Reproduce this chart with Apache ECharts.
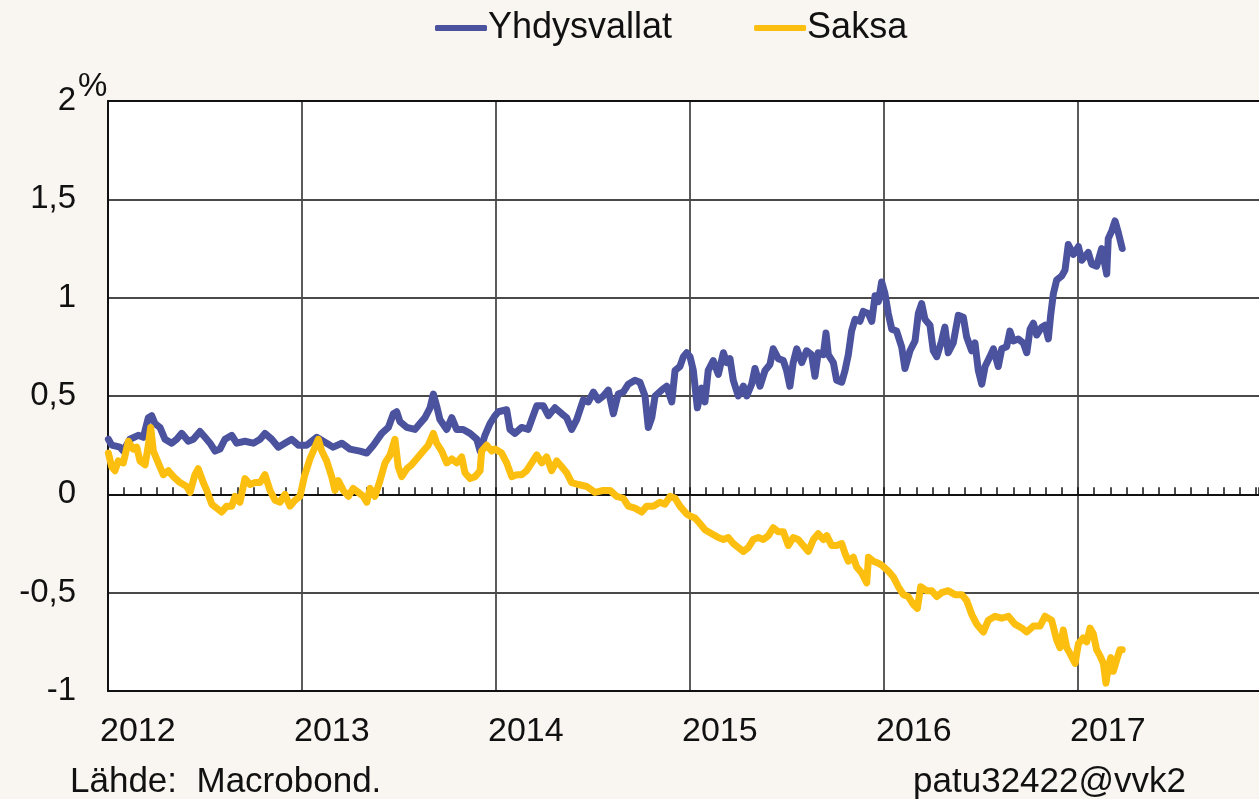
<!DOCTYPE html>
<html>
<head>
<meta charset="utf-8">
<title>Yhdysvallat ja Saksa</title>
<script src="https://cdn.jsdelivr.net/npm/echarts@6/dist/echarts.min.js"></script>
<style>
  html, body { margin: 0; padding: 0; background: #f9f5f0; }
  #chart { width: 1259px; height: 799px; }
</style>
</head>
<body>
<div id="chart"></div>
<script>
// dates as decimal years, values in %
const usYears = [
  2012.002, 2012.019, 2012.062, 2012.079, 2012.113, 2012.156, 2012.182, 2012.208, 2012.225, 2012.242,
  2012.268, 2012.294, 2012.328, 2012.354, 2012.380, 2012.414, 2012.440, 2012.474, 2012.500, 2012.526,
  2012.552, 2012.577, 2012.603, 2012.638, 2012.663, 2012.706, 2012.749, 2012.784, 2012.809, 2012.844,
  2012.878, 2012.912, 2012.947, 2012.981, 2013.024, 2013.076, 2013.110, 2013.161, 2013.205, 2013.247,
  2013.299, 2013.334, 2013.368, 2013.411, 2013.445, 2013.471, 2013.488, 2013.505, 2013.540, 2013.582,
  2013.608, 2013.634, 2013.660, 2013.677, 2013.694, 2013.711, 2013.746, 2013.772, 2013.797, 2013.831,
  2013.866, 2013.901, 2013.918, 2013.943, 2013.969, 2013.995, 2014.012, 2014.055, 2014.072, 2014.098,
  2014.132, 2014.166, 2014.184, 2014.210, 2014.244, 2014.270, 2014.304, 2014.339, 2014.364, 2014.390,
  2014.416, 2014.450, 2014.476, 2014.502, 2014.527, 2014.553, 2014.579, 2014.605, 2014.630, 2014.656,
  2014.682, 2014.716, 2014.742, 2014.768, 2014.785, 2014.803, 2014.820, 2014.854, 2014.880, 2014.906,
  2014.923, 2014.948, 2014.966, 2014.983, 2015.000, 2015.017, 2015.038, 2015.060, 2015.077, 2015.094,
  2015.120, 2015.146, 2015.172, 2015.189, 2015.206, 2015.223, 2015.249, 2015.275, 2015.292, 2015.318,
  2015.335, 2015.361, 2015.387, 2015.412, 2015.429, 2015.455, 2015.481, 2015.498, 2015.515, 2015.532,
  2015.550, 2015.576, 2015.601, 2015.627, 2015.644, 2015.661, 2015.687, 2015.701, 2015.713, 2015.739,
  2015.756, 2015.782, 2015.799, 2015.816, 2015.833, 2015.851, 2015.876, 2015.893, 2015.919, 2015.937,
  2015.954, 2015.971, 2015.988, 2016.005, 2016.022, 2016.040, 2016.065, 2016.091, 2016.108, 2016.134,
  2016.160, 2016.177, 2016.194, 2016.211, 2016.237, 2016.254, 2016.272, 2016.297, 2016.314, 2016.331,
  2016.357, 2016.383, 2016.409, 2016.426, 2016.452, 2016.469, 2016.486, 2016.504, 2016.521, 2016.546,
  2016.564, 2016.589, 2016.607, 2016.632, 2016.649, 2016.666, 2016.692, 2016.718, 2016.736, 2016.753,
  2016.770, 2016.787, 2016.813, 2016.830, 2016.847, 2016.859, 2016.873, 2016.890, 2016.916, 2016.933,
  2016.950, 2016.976, 2017.002, 2017.019, 2017.053, 2017.071, 2017.096, 2017.122, 2017.148, 2017.156,
  2017.174, 2017.191, 2017.208, 2017.228
];
const usValues = [
  0.28, 0.25, 0.24, 0.22, 0.28, 0.30, 0.29, 0.39, 0.40, 0.36,
  0.34, 0.28, 0.26, 0.28, 0.31, 0.27, 0.28, 0.32, 0.29, 0.26,
  0.22, 0.23, 0.28, 0.30, 0.26, 0.27, 0.26, 0.28, 0.31, 0.28,
  0.24, 0.26, 0.28, 0.25, 0.25, 0.29, 0.27, 0.24, 0.26, 0.23,
  0.22, 0.21, 0.25, 0.31, 0.34, 0.41, 0.42, 0.37, 0.34, 0.33,
  0.36, 0.39, 0.44, 0.51, 0.45, 0.38, 0.33, 0.39, 0.33, 0.33,
  0.31, 0.28, 0.22, 0.30, 0.36, 0.40, 0.42, 0.43, 0.33, 0.31,
  0.34, 0.33, 0.38, 0.45, 0.45, 0.40, 0.44, 0.41, 0.39, 0.33,
  0.38, 0.48, 0.47, 0.52, 0.48, 0.50, 0.53, 0.41, 0.51, 0.52,
  0.56, 0.58, 0.57, 0.50, 0.34, 0.39, 0.50, 0.53, 0.55, 0.47,
  0.63, 0.65, 0.70, 0.72, 0.70, 0.63, 0.44, 0.54, 0.47, 0.63,
  0.68, 0.61, 0.72, 0.67, 0.69, 0.58, 0.50, 0.55, 0.50, 0.56,
  0.64, 0.55, 0.63, 0.66, 0.74, 0.69, 0.68, 0.63, 0.55, 0.67,
  0.74, 0.67, 0.73, 0.71, 0.60, 0.72, 0.71, 0.82, 0.71, 0.67,
  0.58, 0.57, 0.63, 0.71, 0.83, 0.89, 0.88, 0.93, 0.92, 0.88,
  1.01, 0.98, 1.08, 1.02, 0.92, 0.84, 0.83, 0.75, 0.64, 0.73,
  0.78, 0.92, 0.97, 0.89, 0.86, 0.73, 0.70, 0.78, 0.85, 0.72,
  0.77, 0.91, 0.90, 0.80, 0.73, 0.77, 0.63, 0.56, 0.65, 0.70,
  0.74, 0.65, 0.74, 0.75, 0.83, 0.78, 0.79, 0.77, 0.72, 0.84,
  0.87, 0.81, 0.85, 0.86, 0.79, 0.91, 1.02, 1.09, 1.11, 1.14,
  1.27, 1.22, 1.26, 1.19, 1.23, 1.17, 1.16, 1.25, 1.12, 1.30,
  1.34, 1.39, 1.33, 1.25
];

const deYears = [
  2012.002, 2012.019, 2012.036, 2012.053, 2012.079, 2012.105, 2012.130, 2012.148, 2012.165, 2012.191,
  2012.208, 2012.220, 2012.234, 2012.259, 2012.285, 2012.311, 2012.337, 2012.371, 2012.406, 2012.423,
  2012.448, 2012.465, 2012.491, 2012.509, 2012.535, 2012.560, 2012.586, 2012.612, 2012.638, 2012.655,
  2012.680, 2012.706, 2012.732, 2012.758, 2012.784, 2012.809, 2012.835, 2012.861, 2012.887, 2012.912,
  2012.938, 2012.964, 2012.990, 2013.012, 2013.041, 2013.067, 2013.084, 2013.102, 2013.127, 2013.153,
  2013.170, 2013.187, 2013.213, 2013.239, 2013.264, 2013.290, 2013.316, 2013.334, 2013.351, 2013.376,
  2013.402, 2013.428, 2013.454, 2013.479, 2013.496, 2013.514, 2013.540, 2013.565, 2013.599, 2013.625,
  2013.651, 2013.677, 2013.694, 2013.720, 2013.746, 2013.772, 2013.797, 2013.823, 2013.840, 2013.866,
  2013.892, 2013.918, 2013.926, 2013.952, 2013.978, 2013.995, 2014.029, 2014.055, 2014.081, 2014.107,
  2014.132, 2014.158, 2014.184, 2014.210, 2014.236, 2014.261, 2014.287, 2014.313, 2014.339, 2014.364,
  2014.390, 2014.424, 2014.468, 2014.510, 2014.553, 2014.588, 2014.622, 2014.656, 2014.682, 2014.716,
  2014.751, 2014.777, 2014.811, 2014.845, 2014.871, 2014.897, 2014.923, 2014.948, 2014.983, 2015.000,
  2015.026, 2015.052, 2015.077, 2015.112, 2015.146, 2015.172, 2015.197, 2015.223, 2015.249, 2015.275,
  2015.301, 2015.326, 2015.352, 2015.378, 2015.404, 2015.429, 2015.455, 2015.481, 2015.507, 2015.532,
  2015.558, 2015.584, 2015.610, 2015.636, 2015.661, 2015.687, 2015.705, 2015.730, 2015.756, 2015.782,
  2015.799, 2015.816, 2015.842, 2015.859, 2015.885, 2015.911, 2015.920, 2015.945, 2015.971, 2015.988,
  2016.022, 2016.048, 2016.074, 2016.100, 2016.125, 2016.151, 2016.172, 2016.189, 2016.220, 2016.246,
  2016.272, 2016.297, 2016.331, 2016.366, 2016.401, 2016.426, 2016.452, 2016.478, 2016.512, 2016.538,
  2016.572, 2016.607, 2016.641, 2016.675, 2016.710, 2016.736, 2016.770, 2016.804, 2016.830, 2016.864,
  2016.890, 2016.907, 2016.924, 2016.942, 2016.959, 2016.985, 2017.002, 2017.027, 2017.045, 2017.062,
  2017.079, 2017.096, 2017.113, 2017.131, 2017.144, 2017.156, 2017.169, 2017.182, 2017.200, 2017.216,
  2017.228
];
const deValues = [
  0.21, 0.14, 0.12, 0.17, 0.16, 0.27, 0.23, 0.24, 0.17, 0.15,
  0.25, 0.34, 0.22, 0.16, 0.10, 0.12, 0.09, 0.06, 0.04, 0.01,
  0.10, 0.13, 0.06, 0.02, -0.05, -0.07, -0.09, -0.06, -0.06, -0.01,
  -0.04, 0.08, 0.05, 0.06, 0.06, 0.10, 0.02, -0.03, -0.04, 0.00,
  -0.06, -0.03, -0.01, 0.09, 0.18, 0.24, 0.28, 0.22, 0.17, 0.09,
  0.02, 0.07, 0.02, -0.01, 0.03, 0.01, -0.01, -0.04, 0.03, -0.01,
  0.07, 0.16, 0.20, 0.28, 0.14, 0.09, 0.13, 0.15, 0.19, 0.22,
  0.25, 0.31, 0.26, 0.22, 0.16, 0.18, 0.16, 0.19, 0.11, 0.08,
  0.09, 0.12, 0.22, 0.25, 0.22, 0.23, 0.21, 0.16, 0.09, 0.10,
  0.10, 0.12, 0.16, 0.20, 0.16, 0.19, 0.12, 0.17, 0.14, 0.11,
  0.06, 0.05, 0.04, 0.01, 0.02, 0.02, -0.01, -0.02, -0.06, -0.07,
  -0.09, -0.06, -0.06, -0.04, -0.05, -0.01, -0.02, -0.06, -0.10, -0.11,
  -0.12, -0.15, -0.18, -0.20, -0.22, -0.23, -0.22, -0.25, -0.27, -0.29,
  -0.27, -0.23, -0.22, -0.23, -0.21, -0.17, -0.19, -0.19, -0.26, -0.22,
  -0.23, -0.26, -0.29, -0.23, -0.20, -0.23, -0.21, -0.26, -0.26, -0.25,
  -0.30, -0.34, -0.32, -0.37, -0.40, -0.45, -0.32, -0.34, -0.35, -0.36,
  -0.39, -0.42, -0.47, -0.51, -0.52, -0.56, -0.58, -0.47, -0.49, -0.49,
  -0.52, -0.50, -0.49, -0.51, -0.51, -0.54, -0.61, -0.66, -0.70, -0.64,
  -0.62, -0.63, -0.62, -0.66, -0.68, -0.70, -0.67, -0.67, -0.62, -0.64,
  -0.74, -0.78, -0.69, -0.78, -0.81, -0.86, -0.76, -0.73, -0.75, -0.68,
  -0.71, -0.79, -0.82, -0.86, -0.96, -0.88, -0.83, -0.90, -0.84, -0.79,
  -0.79
];

const seriesNames = ['Yhdysvallat', 'Saksa'];
const yearTicks = [2012, 2013, 2014, 2015, 2016, 2017];
const xMin = 2012;
const xMax = 2017.933; // window ends late in 2017

const font = '"Liberation Sans", Arial, sans-serif';
const chart = echarts.init(document.getElementById('chart'));

const pairs = (xs, ys) => xs.map((x, i) => [x, ys[i]]);

chart.setOption({
  animation: false,
  backgroundColor: '#f9f5f0',
  textStyle: { fontFamily: font, color: '#111' },
  legend: {
    left: 430,
    top: 5,
    icon: 'roundRect',
    itemWidth: 52,
    itemHeight: 6,
    itemGap: 82,
    textStyle: { fontSize: 36, color: '#111', padding: [0, 0, 0, -4] },
    data: seriesNames,
  },
  grid: {
    left: 108,
    right: 0,
    top: 101,
    bottom: 108,
    outerBoundsMode: 'none',
    show: true,
    backgroundColor: '#ffffff',
    borderWidth: 0,
  },
  xAxis: [
    {
      type: 'value',
      min: xMin,
      max: xMax,
      interval: 1,
      axisLine: { onZero: false, lineStyle: { color: '#111', width: 2 } },
      axisTick: { show: false },
      splitLine: { show: true, showMaxLine: false, lineStyle: { color: '#4a4a4a', width: 1.8 } },
      axisLabel: {
        fontSize: 34,
        color: '#111',
        align: 'left',
        margin: 24,
        padding: [0, 0, 0, -8],
        formatter: (v) => (yearTicks.includes(v) ? String(v) : ''),
      },
    },
    {
      // zero line with monthly ticks
      type: 'value',
      min: xMin,
      max: xMax,
      interval: 1 / 12,
      position: 'bottom',
      axisLine: { onZero: true, lineStyle: { color: '#111', width: 2 } },
      axisTick: { show: true, inside: true, length: 7, lineStyle: { color: '#111', width: 1.5 } },
      axisLabel: { show: false },
      splitLine: { show: false },
    },
    {
      // top frame
      type: 'value',
      min: xMin,
      max: xMax,
      position: 'top',
      axisLine: { show: true, onZero: false, lineStyle: { color: '#111', width: 2 } },
      axisTick: { show: false },
      axisLabel: { show: false },
      splitLine: { show: false },
    },
  ],
  yAxis: {
    type: 'value',
    min: -1,
    max: 2,
    interval: 0.5,
    axisLine: { show: true, lineStyle: { color: '#111', width: 2 } },
    axisTick: { show: false },
    splitLine: { show: true, lineStyle: { color: '#4a4a4a', width: 1.8 } },
    axisLabel: {
      fontSize: 33,
      color: '#111',
      margin: 32,
      formatter: (v) => String(v).replace('.', ','),
    },
  },
  series: [
    {
      name: seriesNames[0],
      type: 'line',
      xAxisIndex: 0,
      data: pairs(usYears, usValues),
      showSymbol: false,
      color: '#4b529e',
      lineStyle: { width: 7, color: '#4b529e', join: 'round', cap: 'round' },
    },
    {
      name: seriesNames[1],
      type: 'line',
      xAxisIndex: 0,
      data: pairs(deYears, deValues),
      showSymbol: false,
      color: '#fcbf10',
      lineStyle: { width: 7, color: '#fcbf10', join: 'round', cap: 'round' },
    },
  ],
  graphic: [
    {
      type: 'text',
      left: 78,
      top: 70,
      style: { text: '%', font: '33px ' + font, fill: '#111' },
    },
    {
      type: 'text',
      left: 70,
      top: 765,
      style: { text: 'Lähde:  Macrobond.', font: '35px ' + font, fill: '#111' },
    },
    {
      type: 'text',
      right: 73,
      top: 765,
      style: { text: 'patu32422@vvk2', font: '35px ' + font, fill: '#111' },
    },
  ],
});

window.addEventListener('resize', chart.resize);
</script>
</body>
</html>
